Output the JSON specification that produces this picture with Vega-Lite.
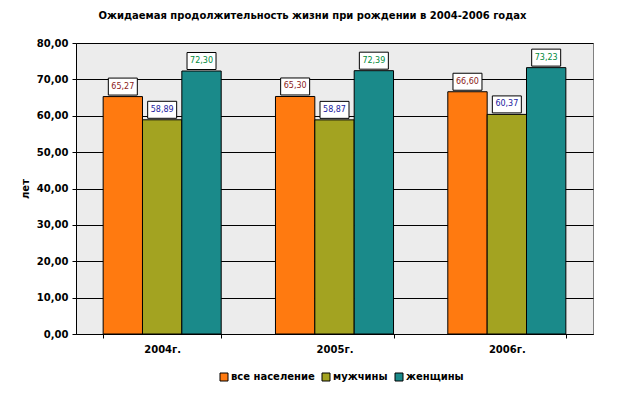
{
  "$schema": "https://vega.github.io/schema/vega-lite/v6.json",
  "width": 517,
  "height": 291,
  "autosize": {"type": "none"},
  "padding": {"left": 76, "top": 43, "right": 24, "bottom": 60},
  "background": "white",
  "title": {
    "text": "Ожидаемая продолжительность жизни при рождении  в 2004-2006 годах",
    "font": "DejaVu Sans",
    "fontSize": 10,
    "fontWeight": "bold",
    "color": "black",
    "anchor": "middle",
    "dx": -22,
    "offset": 17
  },
  "data": {
    "values": [
      {"year": "2004г.", "s": "все население", "v": 65.27},
      {"year": "2004г.", "s": "мужчины", "v": 58.89},
      {"year": "2004г.", "s": "женщины", "v": 72.30},
      {"year": "2005г.", "s": "все население", "v": 65.30},
      {"year": "2005г.", "s": "мужчины", "v": 58.87},
      {"year": "2005г.", "s": "женщины", "v": 72.39},
      {"year": "2006г.", "s": "все население", "v": 66.60},
      {"year": "2006г.", "s": "мужчины", "v": 60.37},
      {"year": "2006г.", "s": "женщины", "v": 73.23}
    ]
  },
  "encoding": {
    "x": {
      "field": "year",
      "type": "nominal",
      "scale": {"paddingInner": 0.315, "paddingOuter": 0.1575},
      "axis": {
        "title": null,
        "labelAngle": 0,
        "labelFont": "DejaVu Sans",
        "labelFontSize": 10,
        "labelFontWeight": "bold",
        "labelColor": "black",
        "labelPadding": 6,
        "domainColor": "black",
        "tickColor": "black",
        "tickSize": 4,
        "tickBand": "extent"
      }
    },
    "xOffset": {
      "field": "s",
      "type": "nominal",
      "sort": ["все население", "мужчины", "женщины"],
      "scale": {"paddingInner": 0, "paddingOuter": 0}
    },
    "y": {
      "field": "v",
      "type": "quantitative",
      "scale": {"domain": [0, 80], "nice": false},
      "axis": {
        "title": "лет",
        "titleFont": "DejaVu Sans",
        "titleFontSize": 10,
        "titleFontWeight": "bold",
        "titleColor": "black",
        "titlePadding": 6,
        "values": [0, 10, 20, 30, 40, 50, 60, 70, 80],
        "format": ".2f",
        "labelFont": "DejaVu Sans",
        "labelFontSize": 10,
        "labelFontWeight": "bold",
        "labelColor": "black",
        "labelPadding": 4,
        "tickSize": 4,
        "tickColor": "black",
        "domainColor": "black",
        "grid": true,
        "gridColor": "black",
        "gridOpacity": 1
      }
    }
  },
  "layer": [
    {
      "mark": {"type": "bar", "stroke": "black", "strokeWidth": 1},
      "encoding": {
        "color": {
          "field": "s",
          "type": "nominal",
          "scale": {
            "domain": ["все население", "мужчины", "женщины"],
            "range": ["#ff7a10", "#a3a321", "#1a8a8a"]
          },
          "legend": {
            "title": null,
            "orient": "none",
            "direction": "horizontal",
            "legendX": 143,
            "legendY": 329,
            "symbolType": "square",
            "symbolSize": 64,
            "symbolStrokeColor": "black",
            "symbolStrokeWidth": 1,
            "symbolOpacity": 1,
            "labelFont": "DejaVu Sans",
            "labelFontSize": 10,
            "labelFontWeight": "bold",
            "labelColor": "black",
            "labelOffset": 2,
            "columnPadding": 5
          }
        }
      }
    },
    {
      "mark": {
        "type": "point",
        "shape": "M-1,-0.586L1,-0.586L1,0.586L-1,0.586Z",
        "size": 841,
        "filled": true,
        "fill": "white",
        "stroke": "black",
        "strokeWidth": 1,
        "opacity": 1,
        "yOffset": -10
      },
      "encoding": {}
    },
    {
      "mark": {
        "type": "text",
        "font": "DejaVu Sans",
        "fontSize": 8,
        "baseline": "middle",
        "align": "center",
        "yOffset": -10
      },
      "encoding": {
        "text": {"field": "v", "type": "quantitative", "format": ".2f"},
        "color": {
          "field": "s",
          "type": "nominal",
          "scale": {
            "domain": ["все население", "мужчины", "женщины"],
            "range": ["#8b1a1a", "#1a1aa0", "#008a3a"]
          },
          "legend": null
        }
      }
    }
  ],
  "resolve": {"scale": {"color": "independent"}},
  "config": {
    "locale": {"number": {"decimal": ",", "thousands": " ", "grouping": [3], "currency": ["", ""]}},
    "view": {"fill": "#ececec", "stroke": "#808080", "strokeWidth": 1}
  }
}
